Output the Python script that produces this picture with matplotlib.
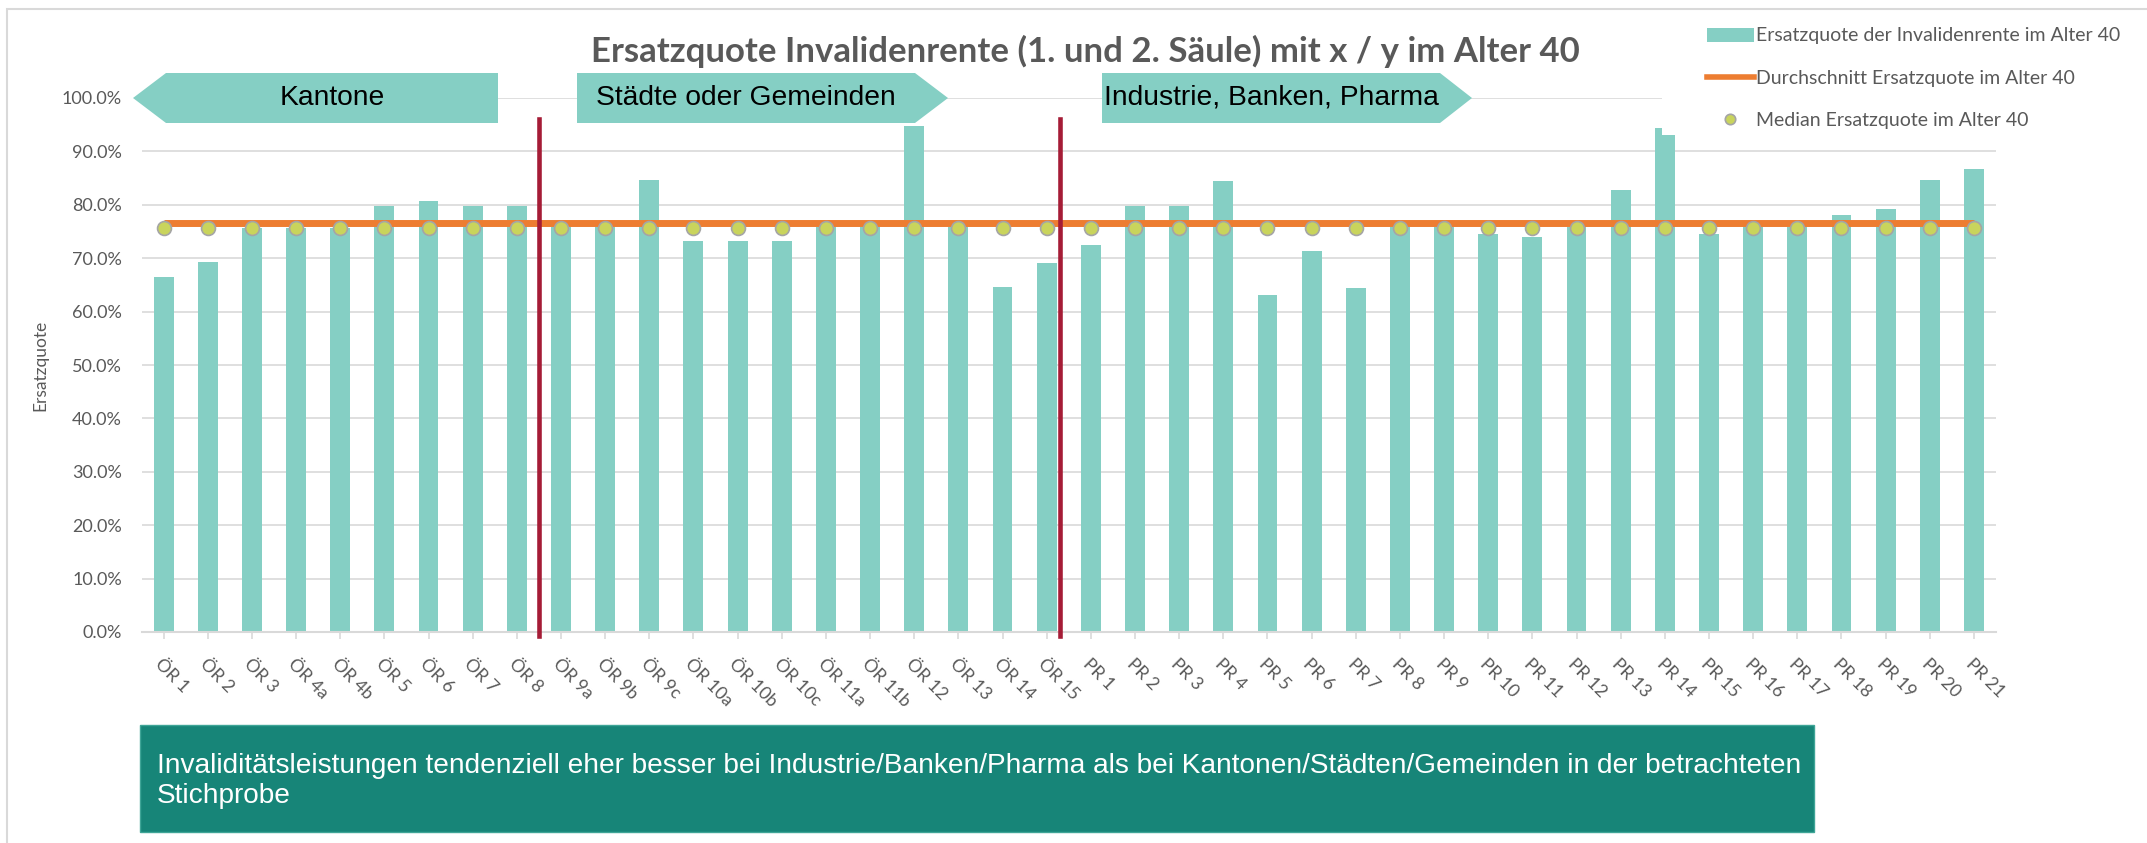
import numpy as np
import matplotlib.pyplot as plt
from matplotlib.patches import Polygon, Rectangle, Patch
from matplotlib.lines import Line2D

# ========== Data ==========
kategorien = ["ÖR 1", "ÖR 2", "ÖR 3", "ÖR 4a", "ÖR 4b", "ÖR 5", "ÖR 6", "ÖR 7", "ÖR 8",
              "ÖR 9a", "ÖR 9b", "ÖR 9c", "ÖR 10a", "ÖR 10b", "ÖR 10c", "ÖR 11a", "ÖR 11b",
              "ÖR 12", "ÖR 13", "ÖR 14", "ÖR 15",
              "PR 1", "PR 2", "PR 3", "PR 4", "PR 5", "PR 6", "PR 7", "PR 8", "PR 9", "PR 10",
              "PR 11", "PR 12", "PR 13", "PR 14", "PR 15", "PR 16", "PR 17", "PR 18", "PR 19",
              "PR 20", "PR 21"]
ersatzquote = [66.4, 69.2, 75.6, 75.6, 75.6, 79.7, 80.8, 79.7, 79.7,
               75.8, 75.8, 84.7, 73.2, 73.2, 73.2, 75.8, 75.8,
               94.7, 75.8, 64.6, 69.1,
               72.5, 79.7, 79.7, 84.5, 63.1, 71.3, 64.4, 75.8, 75.8, 74.6,
               73.9, 75.8, 82.7, 93.0, 74.6, 75.8, 75.8, 78.0, 79.2,
               84.7, 86.7]
pr14_spitze = 94.3          # second, slightly higher top drawn on the PR 14 bar
durchschnitt = 76.6
median = 75.7
gruppen = ["Kantone", "Städte oder Gemeinden", "Industrie, Banken, Pharma"]
legende = ["Ersatzquote der Invalidenrente im Alter 40",
           "Durchschnitt Ersatzquote im Alter 40",
           "Median Ersatzquote im Alter 40"]
titel = "Ersatzquote Invalidenrente (1. und 2. Säule) mit x / y im Alter 40"
fazit = ("Invaliditätsleistungen tendenziell eher besser bei Industrie/Banken/Pharma als bei "
         "Kantonen/Städten/Gemeinden in der betrachteten\nStichprobe")

# ========== Styling ==========
W, H = 2147, 843
TEAL = "#85CFC4"
ORANGE = "#ED7D31"
GELB = "#C9D45C"
ROT = "#A51C36"
GRAU = "#595959"
HELLGRAU = "#D9D9D9"
FONT = "Lato"
ARIAL = "Liberation Sans"


def fx(px):
    return px / W


def fy(py):
    return 1 - py / H


fig = plt.figure(figsize=(W / 100, H / 100), dpi=100)
fig.patch.set_facecolor("white")
ax = fig.add_axes([fx(141.5), fy(632), fx(1996) - fx(141.5), fy(98) - fy(632)])

x = np.arange(len(kategorien))
ax.bar(x, ersatzquote, width=0.45, color=TEAL, zorder=2)
i14 = kategorien.index("PR 14")
ax.bar(x[i14] - 0.225, pr14_spitze, width=0.15, align="edge", color=TEAL, zorder=2)
ax.plot(x, np.full(len(x), durchschnitt), color=ORANGE, lw=5, zorder=3,
        solid_capstyle="butt")
ax.plot(x, np.full(len(x), median), ls="none", marker="o", ms=10, mfc=GELB,
        mec="#A5A5A5", mew=1.2, zorder=4)

# group separators
for xs in [8.5, 20.3]:
    ax.plot([xs, xs], [-0.8, 96.1], color=ROT, lw=3.3, zorder=5, clip_on=False)

ax.set_xlim(-0.5, len(x) - 0.5)
ax.set_ylim(0, 100)
ax.set_yticks(np.arange(0, 101, 10))
ax.set_yticklabels([f"{v:.1f}%" for v in np.arange(0, 101, 10)])
ax.yaxis.grid(True, color=HELLGRAU, lw=1.2, zorder=0)
ax.set_axisbelow(True)
for s in ["left", "top", "right"]:
    ax.spines[s].set_visible(False)
ax.spines["bottom"].set_color(HELLGRAU)
ax.spines["bottom"].set_linewidth(1.5)
ax.tick_params(axis="y", length=0, pad=14, labelsize=13, labelcolor=GRAU)
ax.set_xticks(x)
ax.set_xticklabels(kategorien, rotation=-45, ha="left", rotation_mode="anchor")
ax.tick_params(axis="x", length=5, color=HELLGRAU, width=1.2, pad=12,
               labelsize=12.8, labelcolor=GRAU)
for lab in ax.get_xticklabels() + ax.get_yticklabels():
    lab.set_fontfamily(FONT)

fig.text(fx(40), fy(365), "Ersatzquote", rotation=90, ha="center", va="center",
         fontsize=12.5, color=GRAU, family=FONT)
fig.text(fx(1085), fy(51), titel, ha="center", va="center", fontsize=25,
         fontweight="bold", color=GRAU, family=FONT)

# arrow shapes with the group names
pfeile = [
    [(133, 98), (166, 73), (498, 73), (498, 123), (166, 123)],
    [(577, 73), (915, 73), (948, 98), (915, 123), (577, 123)],
    [(1102, 73), (1440, 73), (1472, 98), (1440, 123), (1102, 123)],
]
text_x = [332, 746, 1271]
for name, pts, tx in zip(gruppen, pfeile, text_x):
    poly = Polygon([(fx(a), fy(b)) for a, b in pts], closed=True, facecolor=TEAL,
                   edgecolor="none", transform=fig.transFigure, zorder=2)
    fig.patches.append(poly)
    fig.text(fx(tx), fy(98), name, ha="center", va="center", fontsize=20.3,
             color="black", family=ARIAL, zorder=3)

# white area behind legend
fig.patches.append(Rectangle((fx(1662), fy(126)), fx(2147) - fx(1662), fy(12) - fy(126),
                             transform=fig.transFigure, facecolor="white",
                             edgecolor="none", zorder=2))
handles = [Patch(facecolor=TEAL),
           Line2D([], [], color=ORANGE, lw=4),
           Line2D([], [], ls="none", marker="o", ms=7.5, mfc=GELB, mec="#A5A5A5", mew=1.2)]
leg = fig.legend(handles, legende, loc="upper left", bbox_to_anchor=(fx(1689), fy(10)),
                 frameon=False, handlelength=2.45, handletextpad=0.12, labelspacing=1.3,
                 prop={"family": FONT, "size": 14}, labelcolor=GRAU)
leg.set_zorder(3)

# conclusion box
fig.patches.append(Rectangle((fx(140), fy(832)), fx(1814) - fx(140), fy(725) - fy(832),
                             transform=fig.transFigure, facecolor="#178578",
                             edgecolor="#3FA597", lw=1, zorder=2))
fig.text(fx(157), fy(781), fazit, ha="left", va="center", fontsize=20.2,
         color="white", family=ARIAL, linespacing=1.2, zorder=3)

# outer frame
fig.patches.append(Rectangle((fx(7), fy(900)), 1.2, fy(9) - fy(900),
                             transform=fig.transFigure, facecolor="none",
                             edgecolor=HELLGRAU, lw=1.5, zorder=1))

fig.savefig("out.png", dpi=100)
print("Saved: out.png")
